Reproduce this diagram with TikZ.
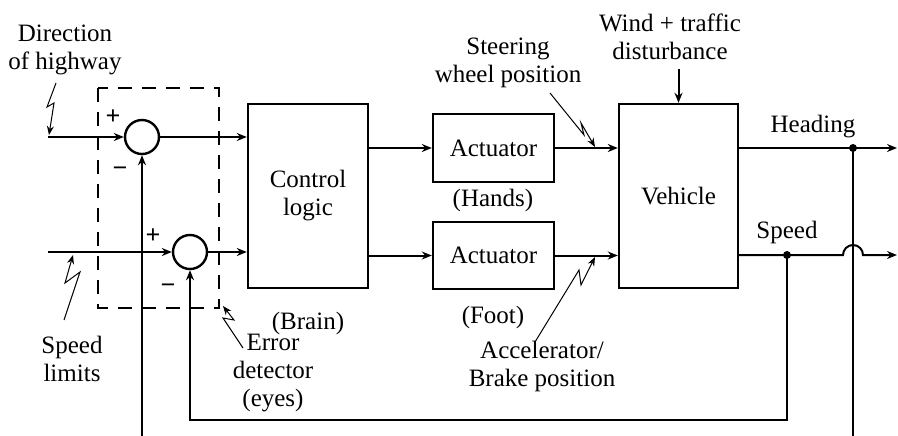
\documentclass[tikz,border=0pt]{standalone}
\usepackage{fontspec}
\setmainfont{Liberation Serif}
\usetikzlibrary{arrows.meta}

\begin{document}
\begin{tikzpicture}[
    x=0.5pt,
    y=0.5pt,
    >={Stealth[length=5pt,width=4pt]},
    every node/.style={
        font=\fontsize{12.5}{14}\selectfont
    },
    textline/.style={
        align=center
    },
    block/.style={
        draw,
        line width=1.2pt,
        align=center,
        inner sep=0pt
    },
    sumjunc/.style={
        draw,
        circle,
        line width=1.2pt,
        minimum size=17pt,
        inner sep=0pt
    },
    sign/.style={
        font=\fontsize{13}{14}\selectfont\bfseries,
        inner sep=0pt
    },
    signal/.style={
        ->,
        line width=1pt
    },
    bolt/.style={
        -{Stealth[length=4.5pt,width=3.5pt]},
        line width=0.5pt
    },
    dot/.style={
        circle,
        fill,
        inner sep=0pt,
        minimum size=4pt
    },
    errorbox/.style={
        line width=1.2pt,
        dash pattern=on 7pt off 5pt
    }
]

\useasboundingbox (0,0) rectangle (898,-435);

% Rows of the two loops
\def\HeadY{-137}
\def\SpeedY{-252}

% ==================================================
% Blocks
% ==================================================

\node[sumjunc] (sumH) at (142,\HeadY) {};
\node[sumjunc] (sumS) at (190,\SpeedY) {};

\node[block, minimum width=60pt, minimum height=92pt] (ctrl) at (308,-196)
    {Control\\logic};

\node[block, minimum width=60.5pt, minimum height=34pt] (actH) at (493.5,-148)
    {Actuator};

\node[block, minimum width=60.5pt, minimum height=33.5pt] (actS) at (493.5,-255.5)
    {Actuator};

\node[block, minimum width=59.5pt, minimum height=92pt] (veh) at (678.5,-196)
    {Vehicle};

% Error detector (dashed)
\draw[errorbox] (98,-88) rectangle (219,-308);

% ==================================================
% Texts
% ==================================================

\node[textline] (dirlbl) at (65,-50) {Direction\\of highway};
\node[textline] (limlbl) at (72,-359) {Speed\\limits};
\node[textline] (errlbl) at (273,-373) {Error\\detector\\(eyes)};
\node[textline] (brainlbl) at (308,-323) {(Brain)};
\node[textline] (handlbl) at (493,-200) {(Hands)};
\node[textline] (footlbl) at (493,-317) {(Foot)};
\node[textline] (steerlbl) at (508,-63) {Steering\\wheel position};
\node[textline] (acclbl) at (542,-366) {Accelerator/\\Brake position};
\node[textline] (windlbl) at (670,-37) {Wind + traffic\\disturbance};
\node[textline] (headlbl) at (813,-127) {Heading};
\node[textline] (speedlbl) at (787,-232) {Speed};

\node[sign] at (113,-117) {+};
\node[sign] at (120,-172) {\char"2212};
\node[sign] at (153,-236) {+};
\node[sign] at (168,-289) {\char"2212};

% ==================================================
% Forward paths
% ==================================================

\coordinate (inH) at (48,\HeadY);
\coordinate (inS) at (48,\SpeedY);
\coordinate (outH) at (897,-148);
\coordinate (outS) at (897,-255);
\coordinate (hop) at (843,-255);

% Heading
\draw[signal] (inH) -- (sumH);
\draw[signal] (sumH) -- (sumH -| ctrl.west);
\draw[signal] (ctrl.east |- actH) -- (actH);
\draw[signal] (actH) -- (actH -| veh.west);
\draw[signal] (veh.east |- outH) -- (outH);

% Speed
\draw[signal] (inS) -- (sumS);
\draw[signal] (sumS) -- (sumS -| ctrl.west);
\draw[signal] (ctrl.east |- actS) -- (actS);
\draw[signal] (actS) -- (actS -| veh.west);
\draw[signal] (veh.east |- outS) -- (hop)
    arc[start angle=180, end angle=0, radius=10] -- (outS);

% Disturbance
\draw[signal] (veh.north) ++(0,34) -- (veh.north);

% ==================================================
% Feedback
% ==================================================

\node[dot] (hdot) at (853,-148) {};
\node[dot] (sdot) at (787,-255) {};

\draw[signal] (sdot.center) -- (sdot |- 0,-420) -| (sumS.south);
\draw[signal] (hdot.center) -- (hdot |- 0,-450) -| (sumH.south);

% ==================================================
% Signal marks
% ==================================================

\draw[bolt] (56,-83) -- (47,-107) -- (54,-103) -- (49,-135);
\draw[bolt] (64,-320) -- (80,-272) -- (65,-283) -- (73,-255);
\draw[bolt] (243,-348) -- (223,-318) -- (234,-320) -- (223,-306);
\draw[bolt] (550,-93) -- (584,-135) -- (581,-123) -- (595,-147);
\draw[bolt] (535,-342) -- (579,-270) -- (581,-285) -- (595,-257);

\end{tikzpicture}
\end{document}
